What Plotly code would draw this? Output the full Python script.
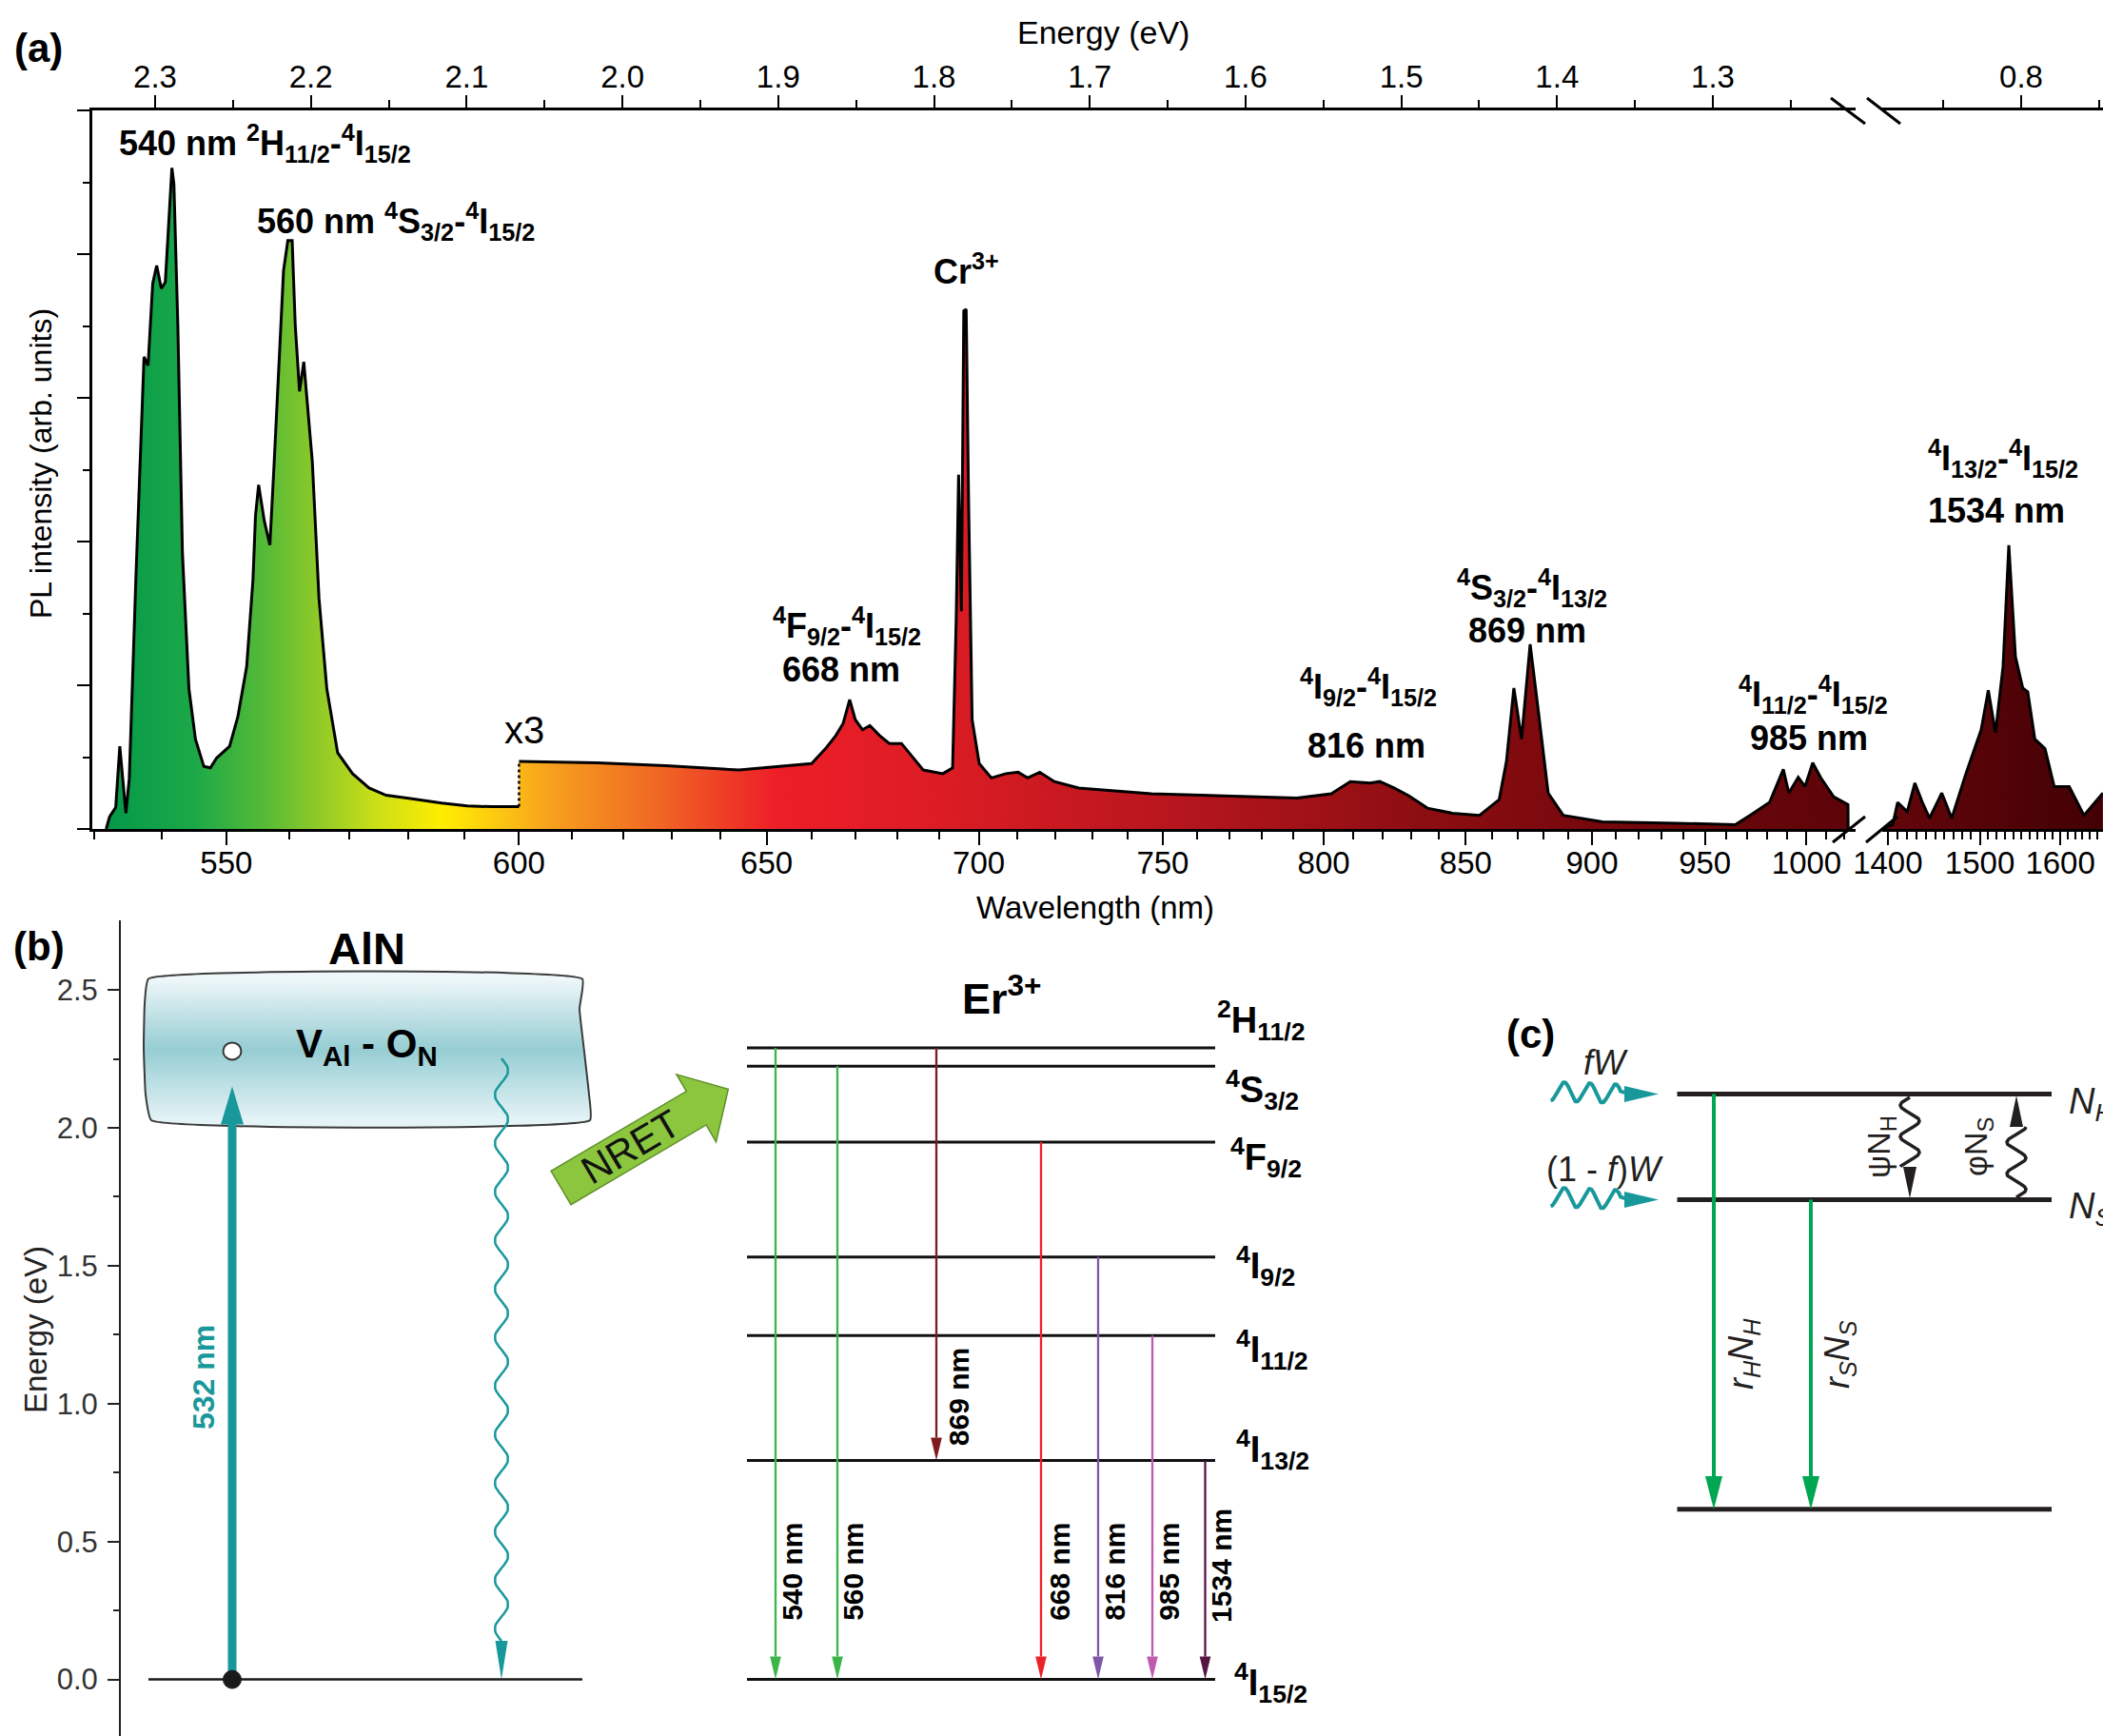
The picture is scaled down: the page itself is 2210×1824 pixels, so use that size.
import math
import plotly.graph_objects as go

W, H = 2210, 1824
HC = 1239.84  # eV*nm
FONT = "Liberation Sans, Arial, Helvetica, sans-serif"

# ===================== (a) PL spectrum data =====================
wl_green = [531.8, 532.3, 533.2, 533.8, 534.7, 535.2, 536.2, 537.4, 538.0, 538.7,
            539.3, 540.0, 540.6, 541.2, 541.6, 541.9, 542.5, 543.2, 544.2, 545.2,
            546.5, 547.5, 548.5, 550.5, 551.8, 553.2, 554.2, 554.6, 555.1, 556.0,
            556.9, 557.6, 558.6, 559.1, 559.8, 560.5, 561.0, 561.7, 562.4, 562.8,
            563.8, 564.9, 566.2, 568.0, 570.5, 573.3, 576.2, 580.7, 585.9, 590.5, 595.0, 600.0]
pl_green = [0.00, 0.17, 0.30, 1.15, 0.22, 0.70, 3.53, 6.57, 6.45, 7.59,
            7.84, 7.52, 7.61, 8.60, 9.20, 8.98, 7.02, 3.85, 1.95, 1.25,
            0.87, 0.85, 0.99, 1.15, 1.56, 2.26, 3.47, 4.36, 4.79, 4.29,
            3.95, 5.11, 7.02, 7.77, 8.19, 8.19, 7.02, 6.09, 6.50, 6.13,
            5.11, 3.21, 1.95, 1.06, 0.77, 0.57, 0.47, 0.42, 0.36, 0.32, 0.31, 0.31]

wl_red = [600.0, 615.0, 628.7, 644.0, 660.0, 663.3, 665.5, 667.2, 668.7, 670.0,
          671.7, 673.4, 675.7, 678.0, 680.9, 683.3, 686.2, 691.0, 693.4, 694.3,
          694.9, 695.6, 696.2, 696.8, 697.4, 698.3, 700.1, 703.2, 706.9, 710.1,
          712.6, 715.8, 719.7, 726.3, 746.7, 768.4, 791.2, 802.5, 808.9, 815.7,
          819.0, 824.0, 829.3, 835.9, 845.0, 855.2, 862.7, 865.5, 868.4, 871.4,
          874.8, 878.2, 882.0, 888.1, 904.4, 936.8, 964.4, 971.5, 981.2, 988.1,
          990.9, 995.7, 999.2, 1003.2, 1007.7, 1014.2, 1021.9, 1022.0]
pl_red_x3 = [0.94, 0.92, 0.88, 0.82, 0.91, 1.13, 1.30, 1.47, 1.80, 1.52,
             1.38, 1.44, 1.30, 1.19, 1.19, 1.02, 0.82, 0.77, 0.85, 2.91,
             4.93, 3.03, 7.21, 7.23, 4.59, 1.52, 0.91, 0.71, 0.77, 0.79,
             0.71, 0.79, 0.66, 0.57, 0.49, 0.46, 0.43, 0.49, 0.66, 0.64,
             0.66, 0.57, 0.46, 0.29, 0.22, 0.19, 0.41, 0.94, 1.96, 1.25,
             2.57, 1.60, 0.50, 0.19, 0.10, 0.08, 0.06, 0.19, 0.37, 0.83,
             0.50, 0.72, 0.59, 0.92, 0.70, 0.45, 0.34, 0.00]

wl_ir = [1394, 1405, 1410, 1420, 1428, 1436, 1443.6, 1457, 1468, 1484, 1501.6, 1510,
         1518.5, 1527.6, 1534.6, 1542.7, 1551.8, 1558, 1567, 1580, 1592, 1612, 1632, 1658.6]
pl_ir = [0.00, 0.06, 0.37, 0.24, 0.64, 0.37, 0.15, 0.50, 0.15, 0.77, 1.38, 1.93,
         1.34, 2.26, 3.95, 2.40, 1.96, 1.91, 1.25, 1.12, 0.59, 0.59, 0.19, 0.50]

tick_nm_seg1 = [550, 600, 650, 700, 750, 800, 850, 900, 950, 1000]
tick_nm_seg2 = [1400, 1500, 1600]
minor_nm_seg1 = [n for n in range(530, 1030, 10) if n not in tick_nm_seg1]
minor_nm_seg2 = [n for n in range(1390, 1660, 10) if n not in tick_nm_seg2]
tick_ev_seg1 = [2.3, 2.2, 2.1, 2.0, 1.9, 1.8, 1.7, 1.6, 1.5, 1.4, 1.3]
minor_ev_seg1 = [2.25, 2.15, 2.05, 1.95, 1.85, 1.75, 1.65, 1.55, 1.45, 1.35, 1.25]
tick_ev_seg2 = [0.8]
minor_ev_seg2 = [0.85, 0.75]

peak_texts = [
    "<b>540 nm <sup>2</sup>H<sub>11/2</sub>-<sup>4</sup>I<sub>15/2</sub></b>",
    "<b>560 nm <sup>4</sup>S<sub>3/2</sub>-<sup>4</sup>I<sub>15/2</sub></b>",
    "<b>Cr<sup>3+</sup></b>",
    "<b><sup>4</sup>F<sub>9/2</sub>-<sup>4</sup>I<sub>15/2</sub></b>",
    "<b>668 nm</b>",
    "<b><sup>4</sup>I<sub>9/2</sub>-<sup>4</sup>I<sub>15/2</sub></b>",
    "<b>816 nm</b>",
    "<b><sup>4</sup>S<sub>3/2</sub>-<sup>4</sup>I<sub>13/2</sub></b>",
    "<b>869 nm</b>",
    "<b><sup>4</sup>I<sub>11/2</sub>-<sup>4</sup>I<sub>15/2</sub></b>",
    "<b>985 nm</b>",
    "<b><sup>4</sup>I<sub>13/2</sub>-<sup>4</sup>I<sub>15/2</sub></b>",
    "<b>1534 nm</b>",
]

# ===================== (b) Er3+ level diagram data =====================
er_level_names = ["<sup>2</sup>H<sub>11/2</sub>", "<sup>4</sup>S<sub>3/2</sub>", "<sup>4</sup>F<sub>9/2</sub>",
                  "<sup>4</sup>I<sub>9/2</sub>", "<sup>4</sup>I<sub>11/2</sub>", "<sup>4</sup>I<sub>13/2</sub>",
                  "<sup>4</sup>I<sub>15/2</sub>"]
er_level_E = [2.290, 2.223, 1.948, 1.532, 1.247, 0.794, 0.0]
er_trans_labels = ["540 nm", "560 nm", "869 nm", "668 nm", "816 nm", "985 nm", "1534 nm"]
er_trans_from = [0, 1, 0, 2, 3, 4, 5]
er_trans_to = [6, 6, 5, 6, 6, 6, 6]
er_trans_colors = ["#3bb54a", "#3bb54a", "#7f1a1f", "#ed2128", "#7e58a6", "#c05bb0", "#561443"]
aln_exc_E = 2.278       # V_Al - O_N level
TEAL = "#19989b"

# ===================== layout geometry (pixels) =====================
PXEV_A = 1637.0
A_LEFT, A_BRK1, A_BRK2, A_TOP, A_BOT = 97, 1950, 1978, 116, 871
E1_L = 2.3 + (163 - A_LEFT) / PXEV_A
E1_R = 2.3 - (A_BRK1 - 163) / PXEV_A
E2_L = 0.8 + (2124 - A_BRK2) / PXEV_A
E2_R = 0.8 - (W - 2124) / PXEV_A

B_AX_X, B_TOP, B_E0 = 127, 966.5, 1764.6
PXEV_B = 289.8


def ev(nms):
    return [HC / v for v in nms]


def px(x):
    return x / W


def py(y):
    return 1 - y / H


def eb(ypix):  # panel (b) pixel y -> energy
    return (B_E0 - ypix) / PXEV_B


def make_scale(nms, cols, e_start, e_stop):
    out = []
    for nm, c in zip(nms, cols):
        f = (e_start - HC / nm) / (e_start - e_stop)
        out.append([min(max(f, 0.0), 1.0), c])
    out[0][0] = 0.0
    out[-1][0] = 1.0
    return out


grad_nm_1 = [531, 545, 556, 565, 575, 586, 596, 606, 628, 652, 690, 750, 830, 900, 1026]
grad_col_1 = ["rgb(0,150,72)", "rgb(28,168,72)", "rgb(85,186,55)", "rgb(145,202,40)", "rgb(205,224,22)",
              "rgb(255,237,0)", "rgb(252,200,18)", "rgb(247,160,30)", "rgb(240,100,36)", "rgb(237,30,40)",
              "rgb(220,28,36)", "rgb(185,22,30)", "rgb(142,14,18)", "rgb(118,8,12)", "rgb(92,4,8)"]
scale1 = make_scale(grad_nm_1, grad_col_1, E1_L, E1_R)
scale2 = [[0, "rgb(100,6,10)"], [1, "rgb(66,0,4)"]]

fig = go.Figure()

# ---- spectrum fills ----
fig.add_trace(go.Scatter(x=ev(wl_green + wl_red), y=pl_green + pl_red_x3, mode="lines",
                         line=dict(width=0, color="black"), fill="tozeroy",
                         fillgradient=dict(type="horizontal", start=E1_L, stop=E1_R, colorscale=scale1),
                         xaxis="x", yaxis="y", hoverinfo="skip", showlegend=False))
fig.add_trace(go.Scatter(x=ev(wl_ir), y=pl_ir, mode="lines", line=dict(width=0, color="black"),
                         fill="tozeroy",
                         fillgradient=dict(type="horizontal", start=E2_L, stop=E2_R, colorscale=scale2),
                         xaxis="x2", yaxis="y", hoverinfo="skip", showlegend=False))
# ---- spectrum lines ----
LW = 3
fig.add_trace(go.Scatter(x=ev(wl_green), y=pl_green, mode="lines", line=dict(width=LW, color="black"),
                         xaxis="x", yaxis="y", hoverinfo="skip", showlegend=False))
fig.add_trace(go.Scatter(x=ev(wl_red), y=pl_red_x3, mode="lines", line=dict(width=LW, color="black"),
                         xaxis="x", yaxis="y", hoverinfo="skip", showlegend=False))
fig.add_trace(go.Scatter(x=ev([wl_green[-1], wl_red[0]]), y=[pl_green[-1], pl_red_x3[0]], mode="lines",
                         line=dict(width=2.5, color="black", dash="3px,3px"),
                         xaxis="x", yaxis="y", hoverinfo="skip", showlegend=False))
fig.add_trace(go.Scatter(x=ev(wl_ir), y=pl_ir, mode="lines", line=dict(width=LW, color="black"),
                         xaxis="x2", yaxis="y", hoverinfo="skip", showlegend=False))
# dummy traces so the top energy axes exist
fig.add_trace(go.Scatter(x=[], y=[], xaxis="x3", yaxis="y", showlegend=False))
fig.add_trace(go.Scatter(x=[], y=[], xaxis="x4", yaxis="y", showlegend=False))

shapes = []


def add_line(x0, y0, x1, y1, color, width, xref, yref, dash=None):
    ln = dict(color=color, width=width)
    if dash:
        ln["dash"] = dash
    shapes.append(dict(type="line", x0=x0, y0=y0, x1=x1, y1=y1, xref=xref, yref=yref, line=ln, layer="above"))


def add_poly(pts, color, xref, yref, line_color=None, lw=0):
    path = "M " + " L ".join(f"{x:.4f},{y:.4f}" for x, y in pts) + " Z"
    shapes.append(dict(type="path", path=path, xref=xref, yref=yref, fillcolor=color,
                       line=dict(color=line_color or color, width=lw), layer="above"))


def wave_pts(x0, y0, x1, y1, amp, period, n=240, phase=0.0):
    L = math.hypot(x1 - x0, y1 - y0)
    ux, uy = (x1 - x0) / L, (y1 - y0) / L
    nx, ny = -uy, ux
    pts = []
    for i in range(n + 1):
        s = L * i / n
        off = amp * math.sin(2 * math.pi * s / period + phase)
        pts.append((x0 + ux * s + nx * off, y0 + uy * s + ny * off))
    return pts


# ---- axis break marks ----
for (x0, y0, x1, y1) in [(1926, 885, 1960, 858), (1961, 885, 1994, 858),
                         (1924, 103, 1960, 130), (1962, 103, 1997, 130)]:
    add_line(px(x0), py(y0), px(x1), py(y1), "black", 3, "paper", "paper")

# ===================== (b) drawing =====================
box_top, box_bot = eb(1028.5), eb(1177)
box_x = [156, 612, 609, 614, 619, 620, 159, 153, 151, 152, 156]
box_y = [box_top, box_top, eb(1060), eb(1105), eb(1150), box_bot, box_bot, eb(1150), eb(1100), eb(1055), box_top]
fig.add_trace(go.Scatter(x=box_x, y=box_y, mode="lines", fill="toself",
                         line=dict(color="#3a3a3a", width=2, shape="spline", smoothing=0.35),
                         fillgradient=dict(type="vertical", start=box_top, stop=box_bot,
                                           colorscale=[[0, "rgb(238,247,249)"], [0.5, "rgb(150,205,211)"],
                                                       [1, "rgb(228,243,246)"]]),
                         xaxis="x5", yaxis="y5", hoverinfo="skip", showlegend=False))
wp = wave_pts(527, 1112, 527, 1724, 7, 51, phase=math.pi)
fig.add_trace(go.Scatter(x=[p[0] for p in wp], y=[eb(p[1]) for p in wp], mode="lines",
                         line=dict(color=TEAL, width=2.5), xaxis="x5", yaxis="y5",
                         hoverinfo="skip", showlegend=False))
add_poly([(520.5, eb(1724)), (533.5, eb(1724)), (527, 0.0)], TEAL, "x5", "y5")
add_line(156, 0, 612, 0, "#1a1a1a", 2.5, "x5", "y5")
E_head = aln_exc_E - 37 / PXEV_B
add_line(244, 0, 244, E_head - 38 / PXEV_B, TEAL, 9, "x5", "y5")
add_poly([(232, E_head - 40 / PXEV_B), (256, E_head - 40 / PXEV_B), (244, E_head)], TEAL, "x5", "y5")
shapes.append(dict(type="circle", xref="x5", yref="y5", xsizemode="pixel", ysizemode="pixel",
                   xanchor=244, yanchor=0, x0=-9.5, x1=9.5, y0=-9.5, y1=9.5,
                   fillcolor="#1a1a1a", line=dict(color="#1a1a1a", width=1), layer="above"))
shapes.append(dict(type="circle", xref="x5", yref="y5", xsizemode="pixel", ysizemode="pixel",
                   xanchor=244, yanchor=aln_exc_E, x0=-9.5, x1=9.5, y0=-9, y1=9,
                   fillcolor="white", line=dict(color="#333333", width=2), layer="above"))
th = math.radians(30.5)
ux, uy = math.cos(th), -math.sin(th)
nx, ny = math.sin(th), math.cos(th)
T = (589.5, 1248)


def loc(u, v):
    return (T[0] + ux * u + nx * v, T[1] + uy * u + ny * v)


nret = [loc(0, -20.5), loc(165, -20.5), loc(165, -41), loc(204, 0), loc(165, 41), loc(165, 20.5), loc(0, 20.5)]
add_poly([(px(a), py(b)) for a, b in nret], "#8cc63f", "paper", "paper", line_color="#5f8f2a", lw=1.5)

for E in er_level_E:
    add_line(785, E, 1277, E, "#111111", 3, "x5", "y5")
er_arrow_x = [815, 880, 984, 1094, 1154, 1211, 1266.5]
HEAD_L, HEAD_HW = 24, 5.8
for i in range(len(er_trans_labels)):
    x = er_arrow_x[i]
    Ef, Et = er_level_E[er_trans_from[i]], er_level_E[er_trans_to[i]]
    Eb = Et + HEAD_L / PXEV_B
    add_line(x, Ef, x, Eb, er_trans_colors[i], 2.3, "x5", "y5")
    add_poly([(x - HEAD_HW, Eb), (x + HEAD_HW, Eb), (x, Et)], er_trans_colors[i], "x5", "y5")

# ===================== (c) drawing (schematic, pixel axes) =====================
C_LEVELS = [1149.4, 1260.4, 1585.7]
for yv in C_LEVELS:
    add_line(1762.5, yv, 2156, yv, "#231f20", 5, "x6", "y6")
GREEN = "#00a651"
for xg, y0 in [(1801, C_LEVELS[0]), (1903, C_LEVELS[1])]:
    add_line(xg, y0, xg, 1551, GREEN, 4, "x6", "y6")
    add_poly([(xg - 9, 1551), (xg + 9, 1551), (xg, 1586)], GREEN, "x6", "y6")
for yc in C_LEVELS[:2]:
    wv = wave_pts(1630, yc - 3, 1703, yc, 10, 27, phase=0.5 * math.pi)
    wv.append((1712, yc))
    fig.add_trace(go.Scatter(x=[p[0] for p in wv], y=[p[1] for p in wv], mode="lines",
                             line=dict(color=TEAL, width=4), xaxis="x6", yaxis="y6",
                             hoverinfo="skip", showlegend=False))
    add_poly([(1707, yc - 8.5), (1743, yc), (1707, yc + 8.5)], TEAL, "x6", "y6")
wv = wave_pts(2007, 1153, 2007, 1226, 10, 33, phase=0.0)
fig.add_trace(go.Scatter(x=[p[0] for p in wv], y=[p[1] for p in wv], mode="lines",
                         line=dict(color="#231f20", width=3.5), xaxis="x6", yaxis="y6",
                         hoverinfo="skip", showlegend=False))
add_poly([(2000, 1226), (2014, 1226), (2007, 1259)], "#231f20", "x6", "y6")
wv = wave_pts(2119, 1258, 2119, 1184, 10, 33, phase=0.0)
fig.add_trace(go.Scatter(x=[p[0] for p in wv], y=[p[1] for p in wv], mode="lines",
                         line=dict(color="#231f20", width=3.5), xaxis="x6", yaxis="y6",
                         hoverinfo="skip", showlegend=False))
add_poly([(2112, 1184), (2126, 1184), (2119, 1151)], "#231f20", "x6", "y6")

# ===================== annotations =====================
ann = []


def A(text, x, y, size, xanchor="center", yanchor="middle", color="black", angle=0,
      xref="paper", yref="paper", family=FONT):
    if xref == "paper":
        x = px(x)
    if yref == "paper":
        y = py(y)
    ann.append(dict(text=text, x=x, y=y, xref=xref, yref=yref, xanchor=xanchor, yanchor=yanchor,
                    showarrow=False, textangle=angle, font=dict(family=family, size=size, color=color)))


A("<b>(a)</b>", 40, 50, 42)
A("<b>(b)</b>", 41, 995, 42)
A("<b>(c)</b>", 1608, 1086, 42)
A("Energy (eV)", 1159, 34, 34)
A("Wavelength (nm)", 1151, 953, 33)
A("PL intensity (arb. units)", 43, 487, 32, angle=-90)
A("x3", 551, 767, 40)

peak_pos = [(123, 150, "left"), (268, 232, "left"), (979, 283, "left"), (890, 657, "center"),
            (884, 703, "center"), (1438, 722, "center"), (1436, 783, "center"), (1610, 617, "center"),
            (1605, 662, "center"), (1905, 729, "center"), (1901, 775, "center"), (2105, 482, "center"),
            (2098, 536, "center")]
for t, (x, y, xa) in zip(peak_texts, peak_pos):
    A(t, x, y, 36, xanchor=xa)

A("<b>AlN</b>", 385, 996, 47)
A("<b>V<sub>Al</sub> - O<sub>N</sub></b>", 385, 1099, 42)
A("Energy (eV)", 37, 1397, 33, angle=-90, color="#222222")
A("<b>532 nm</b>", 214, 1447, 32, angle=-90, color=TEAL)
A("NRET", 663, 1205, 41, angle=-30.5, color="#111111")
A("<b>Er<sup>3+</sup></b>", 1052, 1046, 45)
lvl_pos = [(1277, 1072), (1286, 1145), (1291, 1216), (1297, 1330), (1297, 1418), (1297, 1523), (1295, 1768)]
for name, (x, y) in zip(er_level_names, lvl_pos):
    A("<b>" + name + "</b>", x, y, 38, xanchor="left")
lab_x = [833, 897, 1007, 1114, 1172, 1229, 1284]
lab_E = [0.389, 0.389, 1.023, 0.389, 0.389, 0.389, 0.413]
for t, x, e in zip(er_trans_labels, lab_x, lab_E):
    A("<b>" + t + "</b>", x, e, 30, angle=-90, xref="x5", yref="y5")

CC = "#231f20"
A("<i>fW</i>", 1687, 1116, 36, color=CC)
A("(1 - <i>f</i>)<i>W</i>", 1686, 1228, 36, color=CC)
A("<i>r<sub>H</sub>N<sub>H</sub></i>", 1832, 1423, 36, angle=-90, color=CC)
A("<i>r<sub>S</sub>N<sub>S</sub></i>", 1933, 1423, 36, angle=-90, color=CC)
A("ψN<sub>H</sub>", 1976, 1205, 34, angle=-90, color=CC)
A("φN<sub>S</sub>", 2078, 1205, 34, angle=-90, color=CC)
A("<i>N<sub>H</sub></i>", 2172, 1160, 38, xanchor="left", color=CC)
A("<i>N<sub>S</sub></i>", 2172, 1270, 38, xanchor="left", color=CC)

# ===================== axes =====================
tickfont = dict(family=FONT, size=33, color="black")
common = dict(showline=True, linecolor="black", linewidth=2.5, ticks="outside", ticklen=14,
              tickwidth=2.2, tickcolor="black", showgrid=False, zeroline=False, tickfont=tickfont,
              fixedrange=True, automargin=False)


def minor(vals, ln=8):
    return dict(tickmode="array", tickvals=vals, ticks="outside", ticklen=ln, tickwidth=2,
                tickcolor="black", showgrid=False)


fig.update_layout(
    width=W, height=H, margin=dict(l=0, r=0, t=0, b=0, pad=0, autoexpand=False),
    paper_bgcolor="white", plot_bgcolor="rgba(0,0,0,0)", showlegend=False,
    xaxis=dict(domain=[px(A_LEFT), px(A_BRK1)], range=[E1_L, E1_R], anchor="y",
               tickmode="array", tickvals=ev(tick_nm_seg1), ticktext=[str(v) for v in tick_nm_seg1],
               minor=minor(ev(minor_nm_seg1)), ticklabelstandoff=-9, **common),
    xaxis2=dict(domain=[px(A_BRK2), 1.0], range=[E2_L, E2_R], anchor="y",
                tickmode="array", tickvals=ev(tick_nm_seg2), ticktext=[str(v) for v in tick_nm_seg2],
                minor=minor(ev(minor_nm_seg2)), ticklabelstandoff=-9, **common),
    xaxis3=dict(overlaying="x", side="top", range=[E1_L, E1_R], anchor="y",
                tickmode="array", tickvals=tick_ev_seg1, ticktext=[f"{v:.1f}" for v in tick_ev_seg1],
                minor=minor(minor_ev_seg1), ticklabelstandoff=-5, **{**common, "ticklen": 13}),
    xaxis4=dict(overlaying="x2", side="top", range=[E2_L, E2_R], anchor="y",
                tickmode="array", tickvals=tick_ev_seg2, ticktext=[f"{v:.1f}" for v in tick_ev_seg2],
                minor=minor(minor_ev_seg2), ticklabelstandoff=-5, **{**common, "ticklen": 13}),
    yaxis=dict(domain=[py(A_BOT), py(A_TOP)], range=[0, 10], anchor="x", showline=True,
               linecolor="black", linewidth=2.5, ticks="outside", tickvals=[0, 2, 4, 6, 8, 10],
               ticklen=13, tickwidth=2.2, tickcolor="black", showticklabels=False, automargin=False,
               minor=minor([1, 3, 5, 7, 9], 7), showgrid=False, zeroline=False, fixedrange=True),
    xaxis5=dict(domain=[px(B_AX_X), 1.0], range=[B_AX_X, W], anchor="y5", visible=False,
                fixedrange=True, automargin=False),
    yaxis5=dict(domain=[0, py(B_TOP)], range=[eb(H), eb(B_TOP)], anchor="x5", showline=True,
                linecolor="#222222", linewidth=2, ticks="outside", ticklen=12, tickwidth=2,
                tickcolor="#222222", tickmode="array", tickvals=[0, 0.5, 1.0, 1.5, 2.0, 2.5],
                ticktext=["0.0", "0.5", "1.0", "1.5", "2.0", "2.5"], automargin=False,
                tickfont=dict(family=FONT, size=31, color="#333333"), ticklabelstandoff=4,
                minor=dict(tickmode="array", tickvals=[0.25, 0.75, 1.25, 1.75, 2.25], ticks="outside",
                           ticklen=6, tickwidth=2, tickcolor="#222222"),
                showgrid=False, zeroline=False, fixedrange=True),
    xaxis6=dict(domain=[px(1550), 1.0], range=[1550, W], anchor="y6", visible=False,
                fixedrange=True, automargin=False),
    yaxis6=dict(domain=[0, py(1030)], range=[H, 1030], anchor="x6", visible=False,
                fixedrange=True, automargin=False),
    shapes=shapes, annotations=ann,
)

fig.write_html("out.html", config={"displayModeBar": False},
               post_script="document.body.style.margin='0px';")
